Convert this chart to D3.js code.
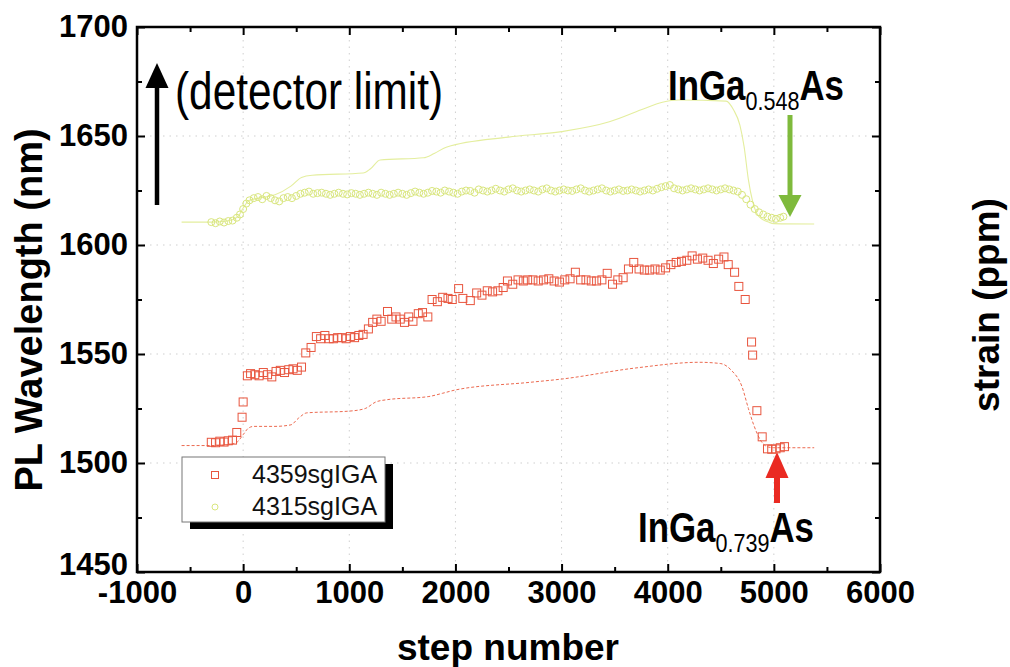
<!DOCTYPE html>
<html>
<head>
<meta charset="utf-8">
<script src="https://cdn.jsdelivr.net/npm/d3@7"></script>
<style>
  body { margin: 0; background: #fff; }
  svg { display: block; }
</style>
</head>
<body>
<script>
//axis ticks
var xTicks = [-1000, 0, 1000, 2000, 3000, 4000, 5000, 6000];
var xMinorTicks = [-500, 500, 1500, 2500, 3500, 4500, 5500];
var yTicks = [1450, 1500, 1550, 1600, 1650, 1700];
var yMinorTicks = [1475, 1525, 1575, 1625, 1675];
var xGrid = [0, 1000, 2000, 3000, 4000, 5000];
var yGrid = [1500, 1550, 1600, 1650];

//4359sgIGA measured (squares)
var redSteps = [-300,-260,-220,-180,-140,-100,-60,-10,0,40,70,110,150,190,230,270,310,350,390,430,470,510,550,590,640,690,730,770,810,850,890,930,970,1010,1050,1090,1130,1180,1220,1260,1300,1360,1400,1440,1480,1520,1560,1600,1650,1690,1740,1780,1830,1880,1930,1970,2030,2070,2140,2200,2250,2300,2350,2400,2450,2490,2540,2590,2640,2680,2730,2780,2830,2880,2930,2980,3030,3080,3130,3180,3230,3280,3330,3380,3430,3480,3530,3580,3630,3680,3730,3780,3830,3880,3930,3980,4030,4080,4130,4180,4230,4280,4330,4380,4430,4480,4530,4570,4630,4670,4730,4790,4800,4840,4890,4940,4980,5020,5060,5100];
var redPL = [1509.5,1509.3,1510,1509.6,1510.2,1510.5,1514,1521,1528,1540,1541,1540.5,1540,1541.5,1540.5,1539.5,1542,1542.5,1541.5,1542.8,1543.2,1542.5,1544,1550.5,1553,1558,1557,1558.5,1557,1557,1557.5,1557.5,1557,1558,1557.5,1558.5,1559,1561.5,1564.5,1566,1565,1569.5,1566,1567,1566,1564.5,1567,1565,1568.5,1569,1567,1575,1574,1576,1575.5,1575,1580,1575.5,1574.5,1578,1577,1579,1578.5,1579,1580.5,1583.5,1582,1584,1583.5,1584,1584,1583.5,1584,1584.5,1583.5,1583,1584,1584.5,1587.5,1584,1584,1583.5,1583.5,1584,1587,1582,1584,1585,1589,1592,1589,1588.5,1588.5,1589,1588.5,1589.5,1591,1592,1592.5,1593,1595,1593.5,1594,1593,1591.5,1593.5,1594.5,1591,1587.5,1581,1575,1555.5,1549.5,1524,1512,1506.5,1506.3,1506.5,1507,1507.5];

//4359sgIGA calculated (dashed line)
var redFitSteps = [-580,-300,-150,-60,0,50,100,300,450,520,600,1000,1150,1250,1350,1750,1880,2000,2700,3000,3700,4300,4500,4600,4700,4760,4810,4880,4950,5000,5380];
var redFitPL = [1508,1508,1508.3,1509.5,1513,1516,1516.8,1516.8,1517.5,1520.5,1523,1523.8,1525,1528,1529,1530.5,1532,1533.5,1537,1538.5,1543.6,1546.2,1545.6,1542.5,1535,1525,1517.5,1510,1507.3,1507,1507];

//4315sgIGA measured (circles)
var greenSteps = [-300,-260,-220,-180,-140,-100,-60,-30,0,30,60,100,140,180,220,260,300,340,380,420,460,500,540,580,620,660,700,740,780,820,860,900,940,980,1020,1060,1100,1140,1180,1220,1260,1300,1340,1380,1420,1460,1500,1540,1580,1620,1660,1700,1740,1780,1820,1860,1900,1940,1980,2020,2060,2100,2140,2180,2220,2260,2300,2340,2380,2420,2460,2500,2540,2580,2620,2660,2700,2740,2780,2820,2860,2900,2940,2980,3020,3060,3100,3140,3180,3220,3260,3300,3340,3380,3420,3460,3500,3540,3580,3620,3660,3700,3740,3780,3820,3860,3900,3940,3980,4020,4060,4100,4140,4180,4220,4260,4300,4340,4380,4420,4460,4500,4540,4580,4620,4660,4700,4740,4780,4820,4860,4900,4940,4980,5020,5060,5090];
var greenPL = [1610.5,1610,1610.8,1610.3,1611,1611.2,1612.5,1614,1616.5,1619,1620.5,1621.5,1622,1621,1622.5,1621.5,1620.5,1620,1621.5,1622,1621.5,1622.5,1623.5,1624,1624.5,1623.5,1623.8,1624,1623.5,1623,1623.5,1624,1623.5,1623.2,1623.8,1623.5,1623,1623.5,1624,1623.5,1623,1624,1623.5,1623,1623.5,1624,1623.5,1623,1623.8,1624.5,1624,1623.5,1624,1624.8,1624.5,1624,1625,1624.5,1624,1623.5,1624.5,1625,1624.8,1624,1625.5,1625,1624.5,1625,1625.8,1625,1624.5,1625.5,1626,1625,1624.5,1625,1625.5,1625,1624.5,1625.5,1626,1625,1624.5,1625,1625.5,1625,1624.8,1625.5,1626,1625,1624.5,1625,1625.5,1626,1625,1624.5,1625,1625.5,1624.8,1625,1625.5,1625,1624.5,1625,1625.5,1625,1625.8,1626.5,1627,1627.5,1626,1625.5,1625,1625.5,1626,1625.5,1625,1625.5,1626,1625.5,1625,1625.5,1626,1625.5,1625,1624.5,1623,1621,1618.5,1616.5,1615,1614,1613,1612.5,1612,1612.5,1613];

//4315sgIGA calculated (line)
var greenFitSteps = [-580,-300,-150,-50,0,60,150,300,450,550,650,1130,1200,1290,1700,1800,1920,2500,3000,3450,3750,3950,4100,4550,4620,4680,4720,4760,4800,4860,4950,5000,5380];
var greenFitPL = [1610.5,1610.5,1611,1613,1617,1620.5,1621.5,1623,1627,1631,1632,1633,1635,1639,1640,1642,1645,1649.5,1652,1656.5,1662,1665.5,1666.5,1666,1662,1655,1645,1630,1620,1613,1610.5,1609.8,1609.6];

var legendNames = ["4359sgIGA", "4315sgIGA"];

var font = "'Liberation Sans', Arial, sans-serif";

//draw svg
var svg = d3.select("body").append("svg")
    .attr("width", 1010)
    .attr("height", 667);

var x = d3.scaleLinear().domain([-1000, 6000]).range([137, 880]);
var y = d3.scaleLinear().domain([1450, 1700]).range([572, 27]);

//tick labels with a plain hyphen for negatives
var tickText = function(d) { return String(d); };

//faint dotted grid
svg.append("g").selectAll("line").data(xGrid).enter().append("line")
    .attr("x1", function(d) { return x(d); }).attr("x2", function(d) { return x(d); })
    .attr("y1", y(1700)).attr("y2", y(1450))
    .attr("stroke", "#cfcfcf").attr("stroke-width", 1).attr("stroke-dasharray", "1.5,5");
svg.append("g").selectAll("line").data(yGrid).enter().append("line")
    .attr("y1", function(d) { return y(d); }).attr("y2", function(d) { return y(d); })
    .attr("x1", x(-1000)).attr("x2", x(6000))
    .attr("stroke", "#cfcfcf").attr("stroke-width", 1).attr("stroke-dasharray", "1.5,5");

//lines
var line = d3.line()
    .x(function(d) { return x(d[0]); })
    .y(function(d) { return y(d[1]); })
    .curve(d3.curveMonotoneX);

svg.append("path")
    .datum(d3.zip(greenFitSteps, greenFitPL))
    .attr("d", line)
    .attr("fill", "none").attr("stroke", "#e4ee9e").attr("stroke-width", 1.1);

svg.append("path")
    .datum(d3.zip(redFitSteps, redFitPL))
    .attr("d", line)
    .attr("fill", "none").attr("stroke", "#ec6a50").attr("stroke-width", 1)
    .attr("stroke-dasharray", "3,2");

//green circles
svg.append("g").selectAll("circle")
    .data(d3.zip(greenSteps, greenPL))
    .enter().append("circle")
    .attr("cx", function(d) { return x(d[0]); })
    .attr("cy", function(d) { return y(d[1]); })
    .attr("r", 3.5)
    .attr("fill", "none").attr("stroke", "#d9e67e").attr("stroke-width", 1);

//red squares
svg.append("g").selectAll("rect")
    .data(d3.zip(redSteps, redPL))
    .enter().append("rect")
    .attr("x", function(d) { return x(d[0]) - 4; })
    .attr("y", function(d) { return y(d[1]) - 4; })
    .attr("width", 8).attr("height", 8)
    .attr("fill", "none").attr("stroke", "#e8553e").attr("stroke-width", 1);

//axes with inward ticks
function styleAxis(g) {
    g.select(".domain").remove();
    g.selectAll("line").attr("stroke", "#000").attr("stroke-width", 2);
    g.selectAll("text").attr("font-family", font).attr("font-weight", "bold")
        .attr("font-size", 31).attr("fill", "#000");
}

svg.append("g").attr("transform", "translate(0," + y(1450) + ")")
    .call(d3.axisBottom(x).tickValues(xTicks).tickSize(-8).tickSizeOuter(0).tickPadding(9).tickFormat(tickText))
    .call(styleAxis);
svg.append("g").attr("transform", "translate(0," + y(1450) + ")")
    .call(d3.axisBottom(x).tickValues(xMinorTicks).tickSize(-5).tickSizeOuter(0).tickFormat(""))
    .call(styleAxis);
svg.append("g").attr("transform", "translate(0," + y(1700) + ")")
    .call(d3.axisTop(x).tickValues(xTicks).tickSize(-8).tickSizeOuter(0).tickFormat(""))
    .call(styleAxis);
svg.append("g").attr("transform", "translate(0," + y(1700) + ")")
    .call(d3.axisTop(x).tickValues(xMinorTicks).tickSize(-5).tickSizeOuter(0).tickFormat(""))
    .call(styleAxis);

var leftAxis = svg.append("g").attr("transform", "translate(" + x(-1000) + ",0)")
    .call(d3.axisLeft(y).tickValues(yTicks).tickSize(-8).tickSizeOuter(0).tickPadding(9).tickFormat(tickText))
    .call(styleAxis);
//nudge the bottom label up a bit so it clears -1000
leftAxis.selectAll(".tick text").filter(function(d) { return d === 1450; }).attr("y", -7);

svg.append("g").attr("transform", "translate(" + x(-1000) + ",0)")
    .call(d3.axisLeft(y).tickValues(yMinorTicks).tickSize(-5).tickSizeOuter(0).tickFormat(""))
    .call(styleAxis);
svg.append("g").attr("transform", "translate(" + x(6000) + ",0)")
    .call(d3.axisRight(y).tickValues(yTicks).tickSize(-8).tickSizeOuter(0).tickFormat(""))
    .call(styleAxis);
svg.append("g").attr("transform", "translate(" + x(6000) + ",0)")
    .call(d3.axisRight(y).tickValues(yMinorTicks).tickSize(-5).tickSizeOuter(0).tickFormat(""))
    .call(styleAxis);

//frame
svg.append("rect")
    .attr("x", x(-1000)).attr("y", y(1700))
    .attr("width", x(6000) - x(-1000)).attr("height", y(1450) - y(1700))
    .attr("fill", "none").attr("stroke", "#000").attr("stroke-width", 2.5);

//axis titles
svg.append("text")
    .attr("transform", "translate(42,310) rotate(-90)")
    .attr("text-anchor", "middle")
    .attr("font-family", font).attr("font-weight", "bold").attr("font-size", 38)
    .text("PL Wavelength (nm)");
svg.append("text")
    .attr("transform", "translate(999,305) rotate(-90)")
    .attr("text-anchor", "middle")
    .attr("font-family", font).attr("font-weight", "bold").attr("font-size", 37)
    .text("strain (ppm)");
svg.append("text")
    .attr("x", 508).attr("y", 660)
    .attr("text-anchor", "middle")
    .attr("font-family", font).attr("font-weight", "bold").attr("font-size", 37)
    .text("step number");

//legend
svg.append("rect").attr("x", 190).attr("y", 464).attr("width", 203).attr("height", 65).attr("fill", "#000");
svg.append("rect").attr("x", 182).attr("y", 457).attr("width", 203).attr("height", 65)
    .attr("fill", "#fff").attr("stroke", "#777").attr("stroke-width", 1);
svg.append("rect").attr("x", 211.5).attr("y", 471.5).attr("width", 7).attr("height", 7)
    .attr("fill", "none").attr("stroke", "#e8553e").attr("stroke-width", 1);
svg.append("circle").attr("cx", 215).attr("cy", 507).attr("r", 3)
    .attr("fill", "none").attr("stroke", "#d9e67e").attr("stroke-width", 1);
svg.selectAll(".legendText").data(legendNames).enter().append("text")
    .attr("class", "legendText")
    .attr("x", 252).attr("y", function(d, i) { return 483 + i * 32; })
    .attr("font-family", font).attr("font-size", 25).attr("fill", "#111")
    .text(function(d) { return d; });

//arrows
function arrow(x0, yFrom, yTo, headLen, headW, shaftW, color) {
    var dir = yTo < yFrom ? 1 : -1;
    svg.append("line")
        .attr("x1", x0).attr("x2", x0)
        .attr("y1", yFrom).attr("y2", yTo + dir * headLen)
        .attr("stroke", color).attr("stroke-width", shaftW);
    svg.append("path")
        .attr("d", "M" + (x0 - headW / 2) + "," + (yTo + dir * headLen) +
            "L" + x0 + "," + yTo + "L" + (x0 + headW / 2) + "," + (yTo + dir * headLen) + "Z")
        .attr("fill", color);
}
arrow(157, 205, 63, 25, 23, 4.5, "#000");
arrow(790, 115, 217, 22, 23, 5, "#7fba3c");
arrow(777, 503, 452, 26, 23, 6, "#ea2a22");

//annotation texts (condensed)
svg.append("text")
    .attr("transform", "translate(175,109) scale(0.83,1)")
    .attr("font-family", font).attr("font-size", 51).attr("fill", "#000")
    .text("(detector limit)");

function formula(tx, ty, sub) {
    var t = svg.append("text")
        .attr("transform", "translate(" + tx + "," + ty + ") scale(0.83,1)")
        .attr("font-family", font).attr("font-weight", "bold").attr("font-size", 42).attr("fill", "#000");
    t.append("tspan").text("InGa");
    t.append("tspan").attr("dy", 10).attr("font-size", 26).attr("font-weight", "normal").text(sub);
    t.append("tspan").attr("dy", -10).text("As");
}
formula(668, 100, "0.548");
formula(638, 542, "0.739");
</script>
</body>
</html>
